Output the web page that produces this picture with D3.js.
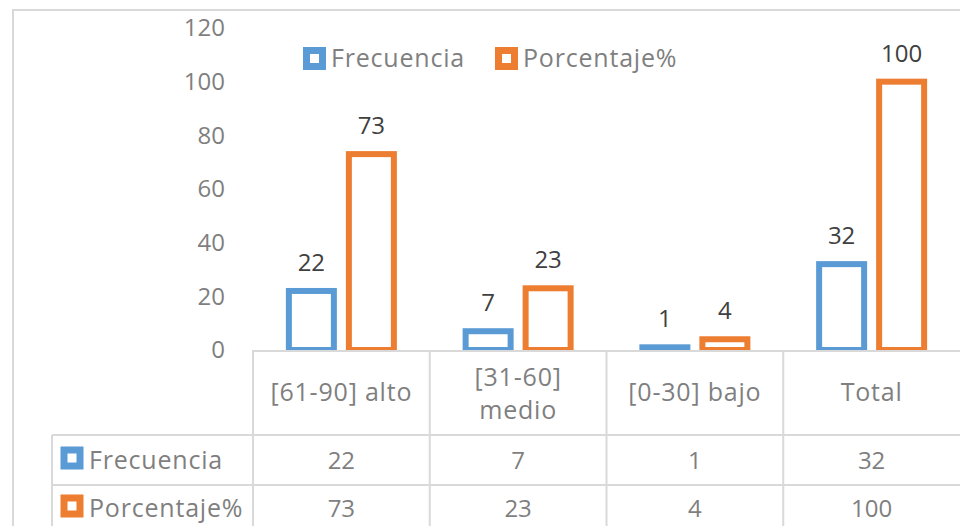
<!DOCTYPE html>
<html>
<head>
<meta charset="utf-8">
<script src="https://cdn.jsdelivr.net/npm/d3@7"></script>
<style>
  body { margin: 0; background: #fff; }
  svg { display: block; font-family: "Open Sans", "Noto Sans", sans-serif; }
  .word { font-size: 25px; letter-spacing: 0.8px; }
</style>
</head>
<body>
<div id="chart"></div>
<script>
// data
const categories = [["[61-90] alto"], ["[31-60]", "medio"], ["[0-30] bajo"], ["Total"]];
const seriesNames = ["Frecuencia", "Porcentaje%"];
const frecuencia = [22, 7, 1, 32];
const porcentaje = [73, 23, 4, 100];
const yTicks = [0, 20, 40, 60, 80, 100, 120];

const seriesValues = [frecuencia, porcentaje];
const colors = ["#5B9BD5", "#ED7D31"];

const width = 960, height = 526;
const gridColor = "#d9d9d9";

const svg = d3.select("#chart").append("svg")
    .attr("width", width)
    .attr("height", height);

// outer chart border
svg.append("rect")
    .attr("x", 13).attr("y", 10)
    .attr("width", 980).attr("height", 560)
    .attr("fill", "none")
    .attr("stroke", gridColor)
    .attr("stroke-width", 2);

// scales
const y = d3.scaleLinear().domain([0, 120]).range([350, 28]);
const x = d3.scaleBand()
    .domain(categories.map((c, i) => i))
    .range([253, 960]);
const xs = d3.scalePoint().domain(seriesNames).range([-30, 30]);

// y axis labels
const yAxis = d3.axisLeft(y).tickValues(yTicks).tickSize(0).tickPadding(0);
svg.append("g")
    .attr("transform", "translate(225,0)")
    .call(yAxis)
    .call(g => g.select(".domain").remove())
    .call(g => g.selectAll("text")
        .attr("font-size", 24)
        .attr("font-family", "'Open Sans', sans-serif")
        .attr("fill", "#7f7f7f"));

// bars, clipped at the baseline
svg.append("clipPath").attr("id", "plot-clip")
    .append("rect").attr("x", 0).attr("y", 0).attr("width", width).attr("height", y(0));

const bars = svg.append("g").attr("clip-path", "url(#plot-clip)");
seriesNames.forEach((name, s) => {
    bars.selectAll(".bar-" + s)
        .data(seriesValues[s])
        .enter().append("rect")
        .attr("class", "bar-" + s)
        .attr("x", (d, i) => x(i) + x.bandwidth() / 2 + xs(name) - 22.5)
        .attr("y", d => y(d))
        .attr("width", 45)
        .attr("height", d => y(0) - y(d))
        .attr("fill", "#fff")
        .attr("stroke", colors[s])
        .attr("stroke-width", 6);
});

// data labels
seriesNames.forEach((name, s) => {
    svg.selectAll(".lbl-" + s)
        .data(seriesValues[s])
        .enter().append("text")
        .attr("x", (d, i) => x(i) + x.bandwidth() / 2 + xs(name))
        .attr("y", d => y(d) - 20)
        .attr("text-anchor", "middle")
        .attr("font-size", 24)
        .attr("fill", "#404040")
        .text(d => d);
});

// data table
const table = svg.append("g")
    .attr("fill", "none")
    .attr("stroke", gridColor)
    .attr("stroke-width", 2);
const rowLines = [435, 485];
table.append("line").attr("x1", 253).attr("x2", width).attr("y1", y(0) + 1).attr("y2", y(0) + 1);
rowLines.forEach(r => {
    table.append("line").attr("x1", 52).attr("x2", width).attr("y1", r).attr("y2", r);
});
table.append("line").attr("x1", 52).attr("x2", 52).attr("y1", 435).attr("y2", height);
categories.forEach((c, i) => {
    table.append("line")
        .attr("x1", x(i)).attr("x2", x(i))
        .attr("y1", y(0)).attr("y2", height);
});

// header row
const header = svg.append("g");
categories.forEach((c, i) => {
    const t = header.append("text")
        .attr("class", "word")
        .attr("x", x(i) + x.bandwidth() / 2)
        .attr("text-anchor", "middle")
        .attr("fill", "#7f7f7f");
    const baseY = c.length === 1 ? 401 : 386;
    c.forEach((line, k) => {
        t.append("tspan")
            .attr("x", x(i) + x.bandwidth() / 2)
            .attr("y", baseY + k * 33)
            .text(line);
    });
});

// value rows
const rowBase = [469, 517];
seriesNames.forEach((name, s) => {
    svg.append("rect")
        .attr("x", 64).attr("y", rowBase[s] - 19)
        .attr("width", 16).attr("height", 16)
        .attr("fill", "#fff")
        .attr("stroke", colors[s])
        .attr("stroke-width", 7);
    svg.append("text")
        .attr("class", "word")
        .attr("x", 89).attr("y", rowBase[s])
        .attr("fill", "#7f7f7f")
        .text(name);
    svg.selectAll(".cell-" + s)
        .data(seriesValues[s])
        .enter().append("text")
        .attr("x", (d, i) => x(i) + x.bandwidth() / 2)
        .attr("y", rowBase[s])
        .attr("text-anchor", "middle")
        .attr("font-size", 24)
        .attr("fill", "#7f7f7f")
        .text(d => d);
});

// legend
const legendX = [303, 495];
seriesNames.forEach((name, s) => {
    const lg = svg.append("g").attr("transform", `translate(${legendX[s]},47)`);
    lg.append("rect")
        .attr("x", 3.5).attr("y", 3.5)
        .attr("width", 16).attr("height", 16)
        .attr("fill", "#fff")
        .attr("stroke", colors[s])
        .attr("stroke-width", 7);
    lg.append("text")
        .attr("class", "word")
        .attr("x", 28).attr("y", 20)
        .attr("fill", "#7f7f7f")
        .text(name);
});
</script>
</body>
</html>
